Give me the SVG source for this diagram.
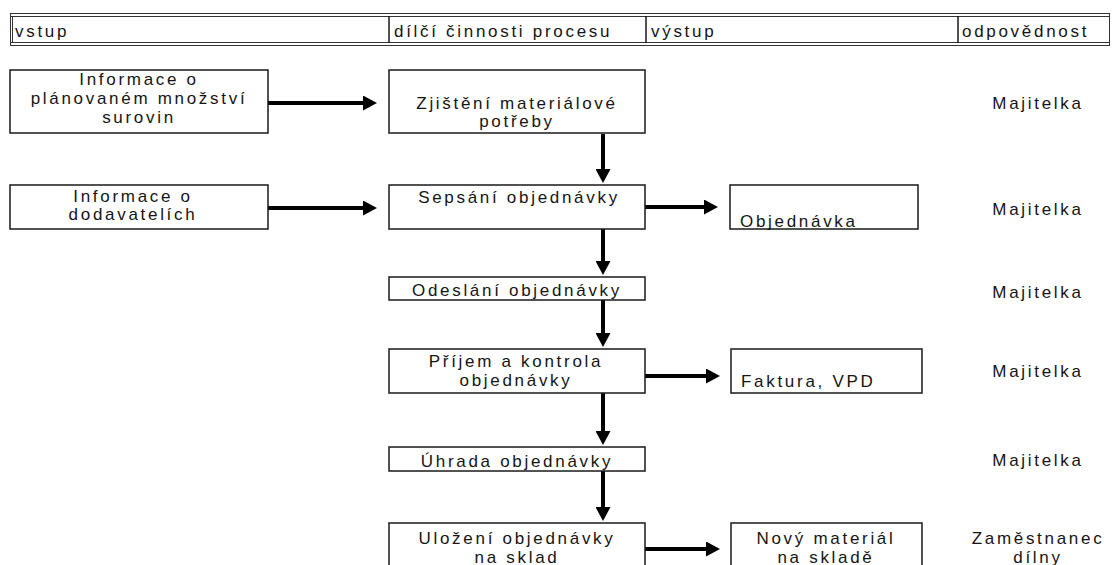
<svg xmlns="http://www.w3.org/2000/svg" width="1112" height="565" viewBox="0 0 1112 565">
<defs>
<style>
text{font-family:"Liberation Sans",Arial,sans-serif;font-size:17px;fill:#151515;letter-spacing:2.7px}
.c{text-anchor:middle}
.box{fill:#fff;stroke:#1a1a1a;stroke-width:1.5}
.hl{stroke:#333;stroke-width:1;fill:none}
.sep{stroke:#1a1a1a;stroke-width:1.5}
.arr{stroke:#000;stroke-width:4;fill:none;marker-end:url(#ah)}
</style>
<marker id="ah" markerUnits="userSpaceOnUse" markerWidth="14" markerHeight="15" refX="0" refY="7.5" orient="auto">
<path d="M0,0 L14,7.5 L0,15 z" fill="#000"/>
</marker>
</defs>
<rect width="1112" height="565" fill="#fff"/>
<g id="header">
<line class="hl" x1="10" y1="13.5" x2="1110" y2="13.5"/>
<line class="hl" x1="10" y1="16.5" x2="1110" y2="16.5"/>
<line class="hl" x1="10" y1="42.5" x2="1110" y2="42.5"/>
<line class="hl" x1="10" y1="45.5" x2="1110" y2="45.5"/>
<line class="hl" x1="10.5" y1="13" x2="10.5" y2="46"/>
<line class="hl" x1="12.5" y1="16" x2="12.5" y2="43"/>
<line class="hl" x1="1109.5" y1="13" x2="1109.5" y2="46"/>
<line class="sep" x1="389" y1="16" x2="389" y2="43"/>
<line class="sep" x1="646" y1="16" x2="646" y2="43"/>
<line class="sep" x1="958" y1="16" x2="958" y2="43"/>
<text x="15" y="37">vstup</text>
<text x="394" y="37">dílčí činnosti procesu</text>
<text x="651" y="37">výstup</text>
<text x="962" y="37">odpovědnost</text>
</g>
<g id="connectors">
<line class="arr" x1="268" y1="103" x2="363" y2="103"/>
<line class="arr" x1="268" y1="208" x2="363" y2="208"/>
<line class="arr" x1="645" y1="207" x2="704" y2="207"/>
<line class="arr" x1="645" y1="376" x2="706" y2="376"/>
<line class="arr" x1="645" y1="549" x2="706" y2="549"/>
<line class="arr" x1="603" y1="134" x2="603" y2="169"/>
<line class="arr" x1="603" y1="229" x2="603" y2="261"/>
<line class="arr" x1="603" y1="300" x2="603" y2="333"/>
<line class="arr" x1="603" y1="393" x2="603" y2="431"/>
<line class="arr" x1="603" y1="471" x2="603" y2="507"/>
</g>
<g id="n-informace-plan">
<rect class="box" x="10" y="70" width="258" height="63"/>
<text class="c" x="139" y="85">Informace o</text>
<text class="c" x="139" y="104">plánovaném množství</text>
<text class="c" x="139" y="123">surovin</text>
</g>
<g id="n-zjisteni">
<rect class="box" x="389" y="70" width="256" height="63"/>
<text class="c" x="517" y="109">Zjištění materiálové</text>
<text class="c" x="517" y="127">potřeby</text>
</g>
<g id="r-1"><text class="c" x="1038" y="109">Majitelka</text></g>
<g id="n-informace-dod">
<rect class="box" x="10" y="185" width="258" height="44"/>
<text class="c" x="133" y="202">Informace o</text>
<text class="c" x="133" y="220">dodavatelích</text>
</g>
<g id="n-sepsani">
<rect class="box" x="389" y="185" width="256" height="44"/>
<text class="c" x="519" y="203">Sepsání objednávky</text>
</g>
<g id="n-objednavka">
<rect class="box" x="730" y="185" width="188" height="44"/>
<text x="740" y="227">Objednávka</text>
</g>
<g id="r-2"><text class="c" x="1038" y="215">Majitelka</text></g>
<g id="n-odeslani">
<rect class="box" x="389" y="277" width="256" height="23"/>
<text class="c" x="517" y="296">Odeslání objednávky</text>
</g>
<g id="r-3"><text class="c" x="1038" y="298">Majitelka</text></g>
<g id="n-prijem">
<rect class="box" x="389" y="349" width="256" height="44"/>
<text class="c" x="516" y="367">Příjem a kontrola</text>
<text class="c" x="516" y="386">objednávky</text>
</g>
<g id="n-faktura">
<rect class="box" x="731" y="349" width="191" height="44"/>
<text x="741" y="387">Faktura, VPD</text>
</g>
<g id="r-4"><text class="c" x="1038" y="377">Majitelka</text></g>
<g id="n-uhrada">
<rect class="box" x="389" y="447" width="256" height="24"/>
<text class="c" x="517" y="467">Úhrada objednávky</text>
</g>
<g id="r-5"><text class="c" x="1038" y="466">Majitelka</text></g>
<g id="n-ulozeni">
<rect class="box" x="389" y="523" width="256" height="50"/>
<text class="c" x="517" y="544">Uložení objednávky</text>
<text class="c" x="517" y="563">na sklad</text>
</g>
<g id="n-novy">
<rect class="box" x="731" y="523" width="191" height="50"/>
<text class="c" x="826" y="544">Nový materiál</text>
<text class="c" x="826" y="563">na skladě</text>
</g>
<g id="r-6">
<text class="c" x="1038" y="544">Zaměstnanec</text>
<text class="c" x="1038" y="563">dílny</text>
</g>
</svg>
